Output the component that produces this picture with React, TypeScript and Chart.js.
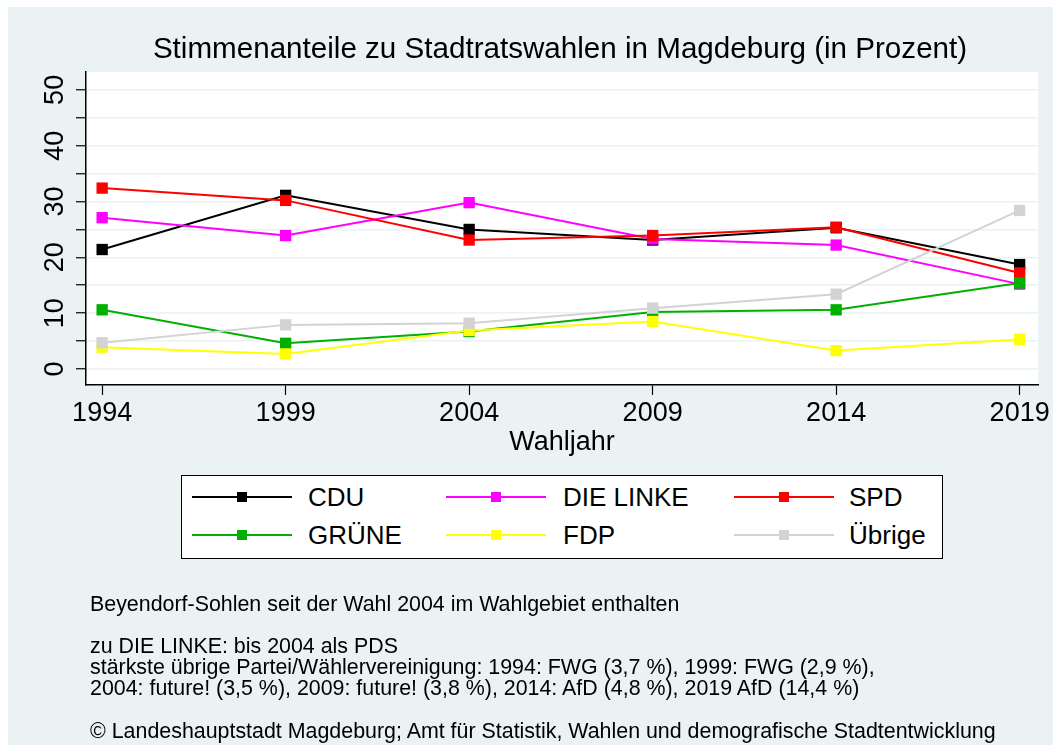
import React, { useEffect, useRef } from 'react';
import { Chart, registerables } from 'chart.js';

Chart.register(...registerables);

const FONT = "'Liberation Sans', Arial, Helvetica, sans-serif";

const titleText = 'Stimmenanteile zu Stadtratswahlen in Magdeburg (in Prozent)';
const xTitle = 'Wahljahr';

const years = [1994, 1999, 2004, 2009, 2014, 2019];
const yTicks = [0, 5, 10, 15, 20, 25, 30, 35, 40, 45, 50];
const yLabelTicks = [0, 10, 20, 30, 40, 50];

const seriesNames = ['CDU', 'DIE LINKE', 'SPD', 'GRÜNE', 'FDP', 'Übrige'];
const seriesColors = ['#000000', '#ff00ff', '#ff0000', '#00b000', '#ffff00', '#d3d3d3'];

const cdu = [21.4, 31.1, 25.0, 23.1, 25.3, 18.7];
const linke = [27.1, 23.9, 29.8, 23.3, 22.2, 15.2];
const spd = [32.4, 30.2, 23.1, 23.9, 25.4, 17.2];
const gruene = [10.6, 4.6, 6.7, 10.2, 10.6, 15.4];
const fdp = [3.9, 2.7, 6.9, 8.5, 3.3, 5.3];
const uebrige = [4.7, 7.9, 8.2, 10.9, 13.4, 28.4];

const seriesValues = [cdu, linke, spd, gruene, fdp, uebrige];

const notes = [
  'Beyendorf-Sohlen seit der Wahl 2004 im Wahlgebiet enthalten',
  'zu DIE LINKE: bis 2004 als PDS',
  'stärkste übrige Partei/Wählervereinigung: 1994: FWG (3,7 %), 1999: FWG (2,9 %),',
  '2004: future! (3,5 %), 2009: future! (3,8 %), 2014: AfD (4,8 %), 2019 AfD (14,4 %)',
  '© Landeshauptstadt Magdeburg; Amt für Statistik, Wahlen und demografische Stadtentwicklung',
];
const noteCenters = [597, 639, 660, 681, 724];

const W = 1045;
const H = 738;

const plotBg = {
  id: 'plotBg',
  beforeDraw(chart: any) {
    const { ctx, chartArea: a } = chart;
    ctx.save();
    ctx.fillStyle = '#ffffff';
    ctx.fillRect(a.left, a.top, a.right - a.left, a.bottom - a.top);
    ctx.restore();
  },
};

export default function App() {
  const ref = useRef<HTMLCanvasElement | null>(null);

  useEffect(() => {
    if (!ref.current) return;
    const chart = new Chart(ref.current, {
      type: 'line',
      data: {
        datasets: seriesNames.map((name, i) => ({
          label: name,
          data: years.map((x, j) => ({ x, y: seriesValues[i][j] })),
          borderColor: seriesColors[i],
          backgroundColor: seriesColors[i],
          pointBackgroundColor: seriesColors[i],
          pointBorderColor: seriesColors[i],
          borderWidth: 2,
          pointStyle: 'rect',
          pointRadius: 8,
          pointBorderWidth: 0,
          tension: 0,
          fill: false,
          order: seriesNames.length - i,
        })),
      },
      options: {
        animation: false,
        responsive: false,
        maintainAspectRatio: false,
        layout: { padding: { left: 0, right: 15, top: 65, bottom: 280 } },
        plugins: {
          legend: { display: false },
          tooltip: { enabled: false },
          title: { display: false },
        },
        scales: {
          x: {
            type: 'linear',
            min: 1993.56,
            max: 2019.5,
            afterBuildTicks: (axis: any) => {
              axis.ticks = years.map((v) => ({ value: v }));
            },
            afterFit: (axis: any) => {
              axis.height = 80;
            },
            grid: {
              drawOnChartArea: false,
              drawTicks: true,
              tickLength: 10,
              tickColor: '#000',
              tickWidth: 1.2,
            },
            border: { display: true, color: '#000', width: 1.5 },
            ticks: {
              color: '#000',
              font: { family: FONT, size: 27 },
              padding: 2,
              maxRotation: 0,
              autoSkip: false,
              callback: (v: any) => String(v),
            },
            title: {
              display: true,
              text: xTitle,
              color: '#000',
              font: { family: FONT, size: 27 },
              padding: { top: 0, bottom: 6 },
            },
          },
          y: {
            type: 'linear',
            min: -2.87,
            max: 53.2,
            afterBuildTicks: (axis: any) => {
              axis.ticks = yTicks.map((v) => ({ value: v }));
            },
            afterFit: (axis: any) => {
              axis.width = 78;
            },
            grid: {
              color: '#eaf2f3',
              lineWidth: 1.5,
              drawTicks: true,
              tickLength: 10,
              tickColor: '#000',
              tickWidth: 1.2,
            },
            border: { display: true, color: '#000', width: 1.5 },
            ticks: {
              color: '#000',
              font: { family: FONT, size: 27 },
              padding: 5,
              minRotation: 90,
              maxRotation: 90,
              crossAlign: 'center',
              autoSkip: false,
              callback: (v: any) => (yLabelTicks.includes(Number(v)) ? String(v) : ''),
            },
          },
        },
      } as any,
      plugins: [plotBg],
    });
    return () => chart.destroy();
  }, []);

  const rowCenters = [490, 528];
  const colLine = [184, 438, 726];
  const colText = [300, 555, 841];

  return (
    <div
      style={{
        position: 'absolute',
        left: 8,
        top: 7,
        width: W,
        height: H,
        background: '#eaf2f3',
        fontFamily: FONT,
        color: '#000',
        overflow: 'hidden',
      }}
    >
      <canvas ref={ref} width={W} height={H} style={{ position: 'absolute', left: 0, top: 0, width: W, height: H }} />
      <div
        style={{
          position: 'absolute',
          left: 552,
          top: 26,
          transform: 'translateX(-50%)',
          fontSize: 29.6,
          lineHeight: '30px',
          whiteSpace: 'nowrap',
        }}
      >
        {titleText}
      </div>
      <div
        style={{
          position: 'absolute',
          left: 173,
          top: 468,
          width: 762,
          height: 84,
          border: '1px solid #000',
          background: '#fff',
          boxSizing: 'border-box',
        }}
      />
      {seriesNames.map((name, i) => {
        const r = Math.floor(i / 3);
        const c = i % 3;
        const cy = rowCenters[r];
        return (
          <React.Fragment key={name}>
            <div
              style={{
                position: 'absolute',
                left: colLine[c],
                top: cy - 1,
                width: 100,
                height: 2,
                background: seriesColors[i],
              }}
            />
            <div
              style={{
                position: 'absolute',
                left: colLine[c] + 50 - 5,
                top: cy - 5,
                width: 10,
                height: 10,
                background: seriesColors[i],
              }}
            />
            <div
              style={{
                position: 'absolute',
                left: colText[c],
                top: cy - 13,
                fontSize: 26,
                lineHeight: '26px',
                whiteSpace: 'nowrap',
              }}
            >
              {name}
            </div>
          </React.Fragment>
        );
      })}
      {notes.map((t, i) => (
        <div
          key={i}
          style={{
            position: 'absolute',
            left: 82,
            top: noteCenters[i] - 10.5,
            fontSize: 21.4,
            lineHeight: '21px',
            whiteSpace: 'nowrap',
          }}
        >
          {t}
        </div>
      ))}
    </div>
  );
}
